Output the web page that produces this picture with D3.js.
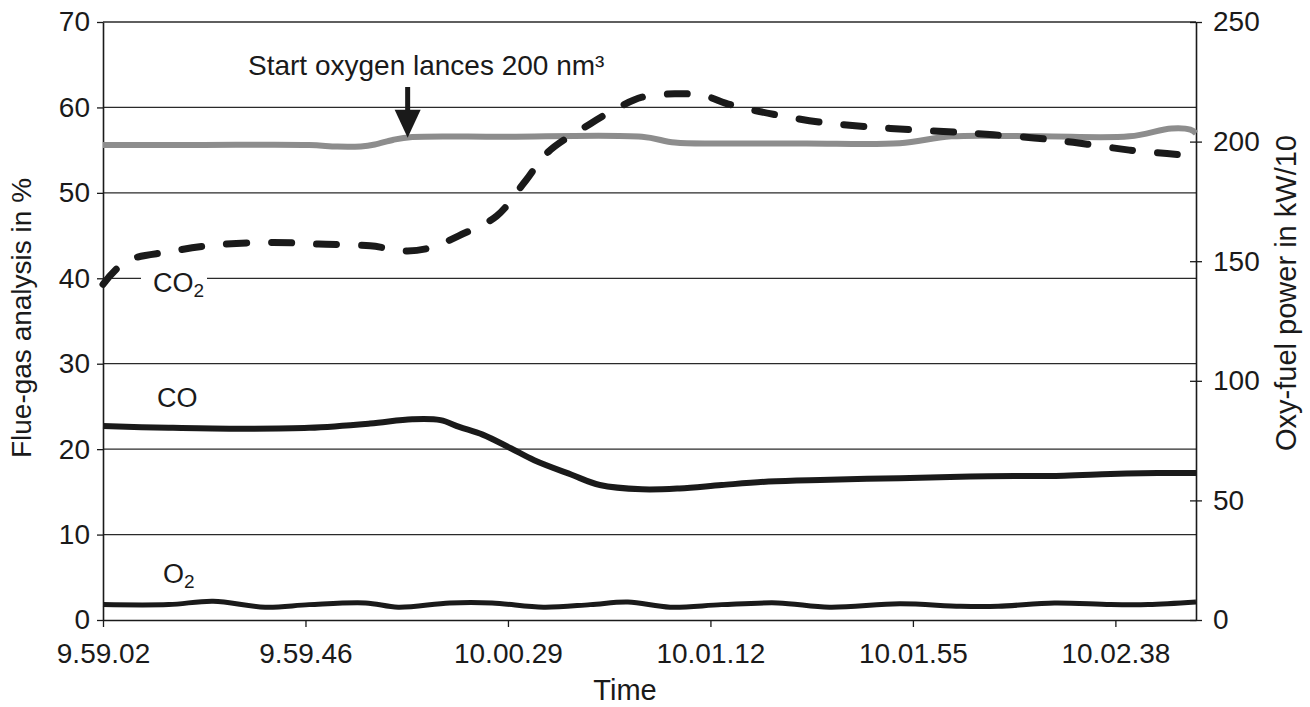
<!DOCTYPE html>
<html>
<head>
<meta charset="utf-8">
<script src="https://cdn.jsdelivr.net/npm/d3@7"></script>
<style>
  body { margin: 0; background: #fff; }
  svg { display: block; font-family: "Liberation Sans", Arial, sans-serif; }
</style>
</head>
<body>
<div class="chart"></div>
<script>
'use strict';

// x axis: seconds after 9.59.02, ticks are category labels
const tickSec = [0, 43.2, 86.4, 129.6, 172.8, 216];
const tickLabels = ['9.59.02', '9.59.46', '10.00.29', '10.01.12', '10.01.55', '10.02.38'];
const leftTicks = [0, 10, 20, 30, 40, 50, 60, 70];
const rightTicks = [0, 50, 100, 150, 200, 250];

// oxy-fuel power (right axis, kW/10)
const powerT = [0, 20, 44, 50, 55, 58, 62, 66, 85, 115, 122, 132, 150, 170, 181, 200, 219, 228, 232, 233.2];
const powerV = [198.6, 198.6, 198.6, 197.9, 198.0, 198.8, 200.8, 201.9, 202.0, 202.0, 199.6, 199.2, 199.2, 199.3, 202.2, 202.2, 202.2, 205.5, 205.0, 203.5];

// CO2 (left axis, %)
const co2T = [0, 5, 14, 24, 36, 46, 57, 65, 70, 76, 84, 90, 95, 104, 110, 115, 122, 128, 134, 143, 154, 164, 172, 182, 190, 201, 210, 219, 227, 233.2];
const co2V = [39.3, 42.0, 43.1, 43.9, 44.2, 44.0, 43.8, 43.2, 43.6, 45.0, 47.3, 51.3, 54.8, 58.1, 60.0, 61.2, 61.6, 61.4, 60.3, 59.2, 58.2, 57.7, 57.4, 57.1, 56.8, 56.3, 55.7, 55.0, 54.6, 54.3];

// CO (left axis, %)
const coT = [0, 14, 27, 44, 57, 66, 72, 76, 81, 87, 92, 100, 106, 115, 123, 132, 142, 153, 170, 185, 205, 215, 225, 233.2];
const coV = [22.7, 22.5, 22.4, 22.5, 23.0, 23.5, 23.4, 22.6, 21.7, 20.1, 18.7, 17.0, 15.8, 15.3, 15.4, 15.8, 16.2, 16.4, 16.6, 16.8, 16.9, 17.1, 17.2, 17.2];

// O2 (left axis, %)
const o2T = [0, 14, 23.5, 34.6, 44, 56, 63, 74, 83, 94, 104, 112, 121, 132, 144, 155, 170, 183, 191, 203, 215, 223, 233.2];
const o2V = [1.8, 1.8, 2.2, 1.5, 1.8, 2.0, 1.5, 2.0, 2.0, 1.5, 1.8, 2.1, 1.5, 1.8, 2.0, 1.5, 1.9, 1.6, 1.6, 2.0, 1.8, 1.8, 2.1];

// annotation: start of oxygen lances
const lanceT = 65;
const lanceV = 202;

const W = 1310, H = 707;
const plot = {left: 103, right: 1196, top: 22, bottom: 620};
const ink = '#1a1a1a';

const svg = d3.select('.chart').append('svg')
  .attr('width', W)
  .attr('height', H);

const x = d3.scaleLinear().domain([0, 233.2]).range([plot.left, plot.right]);
const yL = d3.scaleLinear().domain([0, 70]).range([plot.bottom, plot.top]);
const yR = d3.scaleLinear().domain([0, 250]).range([plot.bottom, plot.top]);

// gridlines
svg.append('g')
  .selectAll('line')
  .data(leftTicks.slice(1))
  .enter()
  .append('line')
  .attr('x1', plot.left)
  .attr('x2', plot.right)
  .attr('y1', d => yL(d))
  .attr('y2', d => yL(d))
  .style('stroke', '#2a2a2a')
  .style('stroke-width', 1.3);

// axes
function styleAxis(g, size) {
  g.select('.domain').style('stroke', ink).style('stroke-width', 1.6);
  g.selectAll('.tick line').style('stroke', ink).style('stroke-width', 1.3);
  g.selectAll('.tick text')
    .style('font-size', size + 'px')
    .style('font-family', '"Liberation Sans", Arial, sans-serif')
    .style('fill', ink);
}

const xAxis = d3.axisBottom(x)
  .tickValues(tickSec)
  .tickFormat((d, i) => tickLabels[i])
  .tickSize(7)
  .tickSizeOuter(0)
  .tickPadding(16);
svg.append('g')
  .attr('transform', `translate(0,${plot.bottom})`)
  .call(xAxis)
  .call(g => styleAxis(g, 28));

const yAxisL = d3.axisLeft(yL)
  .tickValues(leftTicks)
  .tickSize(6)
  .tickSizeOuter(0)
  .tickPadding(7);
svg.append('g')
  .attr('transform', `translate(${plot.left},0)`)
  .call(yAxisL)
  .call(g => styleAxis(g, 28));

const yAxisR = d3.axisRight(yR)
  .tickValues(rightTicks)
  .tickSize(6)
  .tickSizeOuter(0)
  .tickPadding(11);
svg.append('g')
  .attr('transform', `translate(${plot.right},0)`)
  .call(yAxisR)
  .call(g => styleAxis(g, 28))
  .call(g => g.selectAll('.tick line').attr('x1', -6));

// series
const curve = d3.curveCatmullRom.alpha(0.5);
const lineL = d3.line()
  .x(d => x(d[0]))
  .y(d => yL(d[1]))
  .curve(curve);
const lineR = d3.line()
  .x(d => x(d[0]))
  .y(d => yR(d[1]))
  .curve(curve);

const zip = (a, b) => a.map((t, i) => [t, b[i]]);

svg.append('path')
  .datum(zip(powerT, powerV))
  .attr('d', lineR)
  .style('fill', 'none')
  .style('stroke', '#8d8d8d')
  .style('stroke-width', 6);

svg.append('path')
  .datum(zip(co2T, co2V))
  .attr('d', lineL)
  .style('fill', 'none')
  .style('stroke', ink)
  .style('stroke-width', 7)
  .style('stroke-linecap', 'round')
  .style('stroke-dasharray', '20,25');

svg.append('path')
  .datum(zip(coT, coV))
  .attr('d', lineL)
  .style('fill', 'none')
  .style('stroke', ink)
  .style('stroke-width', 6);

svg.append('path')
  .datum(zip(o2T, o2V))
  .attr('d', lineL)
  .style('fill', 'none')
  .style('stroke', ink)
  .style('stroke-width', 5);

// series labels
function seriesLabel(px, py, main, sub) {
  const t = svg.append('text')
    .attr('x', px)
    .attr('y', py)
    .style('font-size', '27px')
    .style('fill', ink)
    .text(main);
  if (sub) {
    t.append('tspan')
      .attr('dy', 5)
      .style('font-size', '19px')
      .text(sub);
  }
  return t;
}

svg.append('rect')
  .attr('x', 141)
  .attr('y', 266)
  .attr('width', 66)
  .attr('height', 32)
  .style('fill', '#fff');
seriesLabel(153, 292, 'CO', '2');
seriesLabel(157, 407, 'CO');
seriesLabel(163, 583, 'O', '2');

// annotation arrow
const ax = x(lanceT);
const tipY = yR(lanceV) + 1;
svg.append('line')
  .attr('x1', ax)
  .attr('x2', ax)
  .attr('y1', 87)
  .attr('y2', tipY - 24)
  .style('stroke', ink)
  .style('stroke-width', 5);
svg.append('path')
  .attr('d', `M${ax - 13},${tipY - 28} L${ax + 13},${tipY - 28} L${ax},${tipY} Z`)
  .style('fill', ink);
svg.append('text')
  .attr('x', 248)
  .attr('y', 75)
  .style('font-size', '28px')
  .style('fill', ink)
  .text('Start oxygen lances 200 nm³');

// axis titles
svg.append('text')
  .attr('transform', 'translate(31,318) rotate(-90)')
  .attr('text-anchor', 'middle')
  .style('font-size', '28px')
  .style('fill', ink)
  .text('Flue-gas analysis in %');

svg.append('text')
  .attr('transform', 'translate(1296,293) rotate(-90)')
  .attr('text-anchor', 'middle')
  .style('font-size', '29px')
  .style('fill', ink)
  .text('Oxy-fuel power in kW/10');

svg.append('text')
  .attr('x', 625)
  .attr('y', 700)
  .attr('text-anchor', 'middle')
  .style('font-size', '29px')
  .style('fill', ink)
  .text('Time');
</script>
</body>
</html>
